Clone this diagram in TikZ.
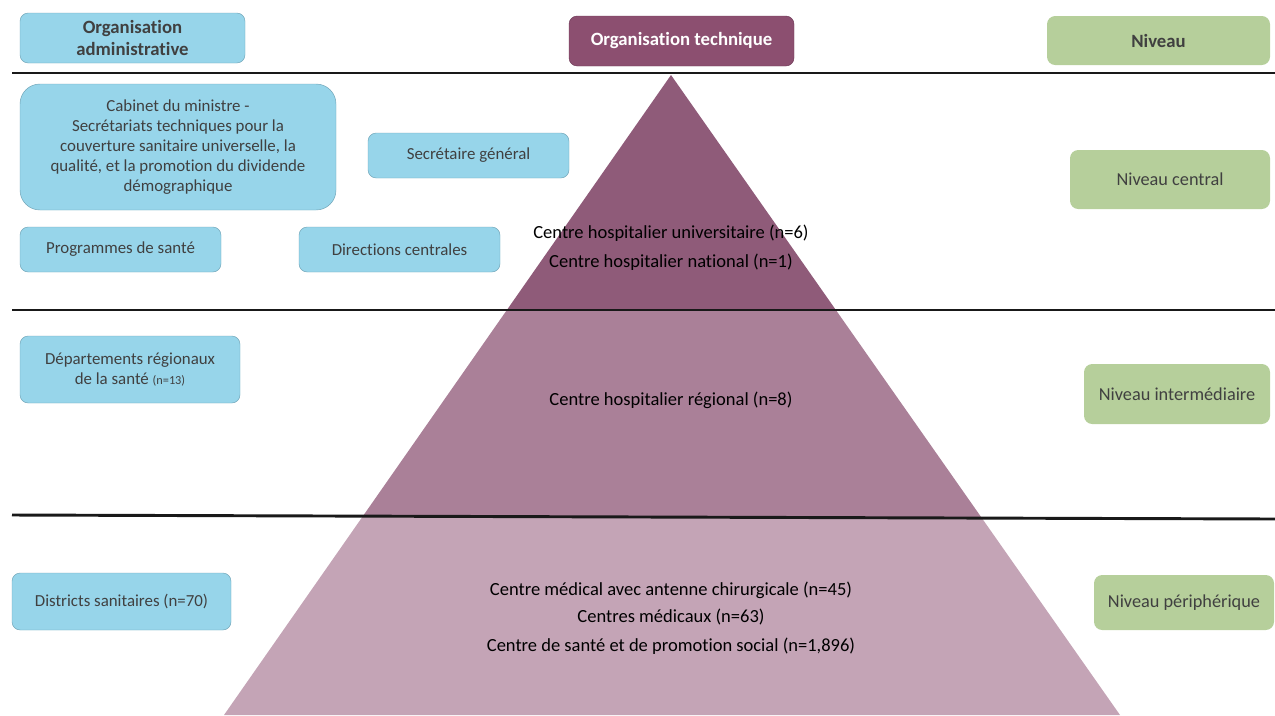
\documentclass[tikz,border=0pt]{standalone}
\usepackage{fontspec}
\setmainfont{Carlito}[Ligatures=CommonOff]
\definecolor{mblue}{HTML}{97D5EA}
\definecolor{mblueline}{HTML}{6FA3B6}
\definecolor{mgreen}{HTML}{B6CF9B}
\definecolor{mplum}{HTML}{8C4F70}
\definecolor{mplumline}{HTML}{6E3A57}
\definecolor{mtop}{HTML}{8F5B79}
\definecolor{mmid}{HTML}{AA8098}
\definecolor{mbot}{HTML}{C4A4B6}
\definecolor{mgrey}{HTML}{404040}
\tikzset{
  wh/.style 2 args = {minimum width = #1*0.3mm, minimum height = #2*0.3mm},
  bluebox/.style = {draw = mblueline, fill = mblue, rounded corners = 7, text = mgrey, align = center, inner sep = 0},
  greenbox/.style = {fill = mgreen, rounded corners = 7, text = mgrey, align = center, inner sep = 0,
    font = \fontsize{15.6}{19}\selectfont},
  head/.style = {font = \fontsize{16}{19}\selectfont\bfseries},
  level/.style = {line width = 2.5pt, color = black!90},
  inside/.style = {align = center, text = black, font = \fontsize{15.8}{19}\selectfont}
}

\begin{document}
\begin{tikzpicture}[x = 0.3mm, y = -0.3mm, font = \fontsize{14.4}{17}\selectfont]
    \useasboundingbox (0, 0) rectangle (1275, 715);

    % pyramid
    \begin{scope}
      \clip (671, 75) -- (1120, 715) -- (224, 715) -- cycle;
      \fill [mtop] (0, 70) rectangle (1275, 310);
      \fill [mmid] (0, 310) -- (1275, 310) -- (1275, 519) -- (0, 515) -- cycle;
      \fill [mbot] (0, 515) -- (1275, 519) -- (1275, 715) -- (0, 715) -- cycle;
    \end{scope}

    \draw [level] (12, 73) -- (1275, 73);
    \draw [level] (12, 310) -- (1275, 310);
    \draw [level] (12, 515) -- (1275, 519);

    % headers
    \node [bluebox, wh = {225}{50}, head] (orgadm) at (132.5, 38)
      {Organisation\\administrative};
    \node [draw = mplumline, fill = mplum, rounded corners = 7, text = white, wh = {225}{50},
      head] (orgtech) at (681.5, 41) {Organisation technique};
    \node [greenbox, wh = {223}{49}, head] (niveau) at (1158.5, 40.5) {Niveau};

    % central
    \node [bluebox, wh = {316}{126}, rounded corners = 17] (cabinet) at (178, 147)
      {Cabinet du ministre -\\Secrétariats techniques pour la\\couverture sanitaire universelle, la\\qualité, et la promotion du dividende\\démographique};
    \node [bluebox, wh = {201}{45}] (secgen) at (468.5, 155.5) {Secrétaire général};
    \node [bluebox, wh = {201}{45}] (progs) at (120.5, 249.5) {Programmes de santé};
    \node [bluebox, wh = {201}{45}] (dircen) at (399.5, 249.5) {Directions centrales};
    \node [greenbox, wh = {200}{59}] (nivcen) at (1170, 179.5) {Niveau central};
    \node [inside] (chu) at (671, 233) {Centre hospitalier universitaire (n=6)};
    \node [inside] (chn) at (671, 262) {Centre hospitalier national (n=1)};

    % intermediaire
    \node [bluebox, wh = {220}{67}] (drs) at (130, 369.5)
      {Départements régionaux\\de la santé {\fontsize{10.5}{12}\selectfont(n=13)}};
    \node [greenbox, wh = {186}{60}] (nivint) at (1177, 394) {Niveau intermédiaire};
    \node [inside] (chr) at (671, 400) {Centre hospitalier régional (n=8)};

    % peripherique
    \node [bluebox, wh = {219}{57}] (ds) at (121.5, 601.5) {Districts sanitaires (n=70)};
    \node [greenbox, wh = {180}{55}] (nivper) at (1184, 602.5) {Niveau périphérique};
    \node [inside] (cma) at (671, 590) {Centre médical avec antenne chirurgicale (n=45)};
    \node [inside] (cm) at (671, 617) {Centres médicaux (n=63)};
    \node [inside] (csps) at (671, 646) {Centre de santé et de promotion social (n=1,896)};
  \end{tikzpicture}
\end{document}
